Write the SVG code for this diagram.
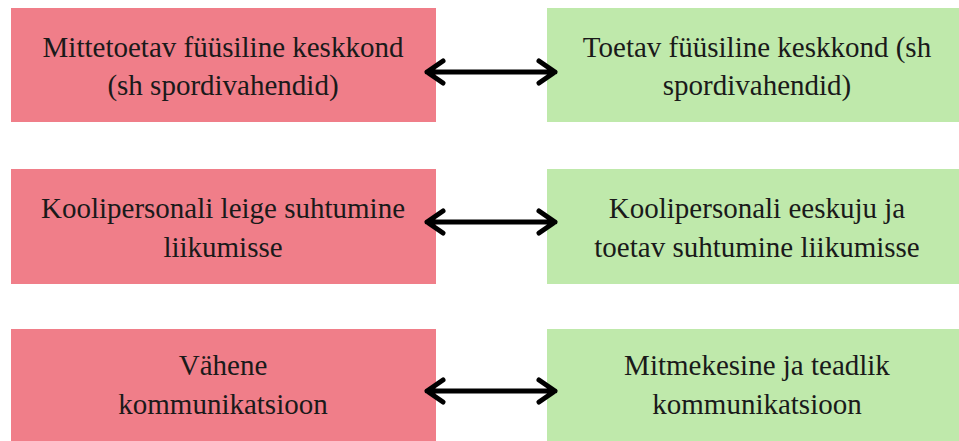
<svg xmlns="http://www.w3.org/2000/svg" width="959" height="441" viewBox="0 0 959 441">
<style>
.neg{fill:#F07E89}
.pos{fill:#BFE9AB}
.c{stroke:#000;stroke-width:5;fill:none;stroke-linecap:round;stroke-linejoin:round}
</style>
<rect width="959" height="441" fill="#fff"/>
<g font-family="Liberation Serif, DejaVu Serif, serif" font-size="29" fill="#1a1a1a" text-anchor="middle">
<g id="n1"><rect class="neg" x="11" y="8" width="425" height="114"/><text x="223" y="57">Mittetoetav füüsiline keskkond</text><text x="223" y="95">(sh spordivahendid)</text></g>
<g id="n2"><rect class="pos" x="547" y="8" width="420" height="114"/><text x="757" y="57">Toetav füüsiline keskkond (sh</text><text x="757" y="95">spordivahendid)</text></g>
<g id="n3"><rect class="neg" x="11" y="169" width="425" height="115"/><text x="223" y="218">Koolipersonali leige suhtumine</text><text x="223" y="257">liikumisse</text></g>
<g id="n4"><rect class="pos" x="547" y="169" width="420" height="115"/><text x="757" y="218">Koolipersonali eeskuju ja</text><text x="757" y="257">toetav suhtumine liikumisse</text></g>
<g id="n5"><rect class="neg" x="11" y="329" width="425" height="120"/><text x="223" y="375">Vähene</text><text x="223" y="414">kommunikatsioon</text></g>
<g id="n6"><rect class="pos" x="547" y="329" width="420" height="120"/><text x="757" y="375">Mitmekesine ja teadlik</text><text x="757" y="414">kommunikatsioon</text></g>
</g>
<g id="connectors">
<path class="c" d="M427 72H555M443 61L427 72L443 83M539 61L555 72L539 83"/>
<path class="c" d="M427 222H555M443 211L427 222L443 233M539 211L555 222L539 233"/>
<path class="c" d="M427 391H555M443 380L427 391L443 402M539 380L555 391L539 402"/>
</g>
</svg>
